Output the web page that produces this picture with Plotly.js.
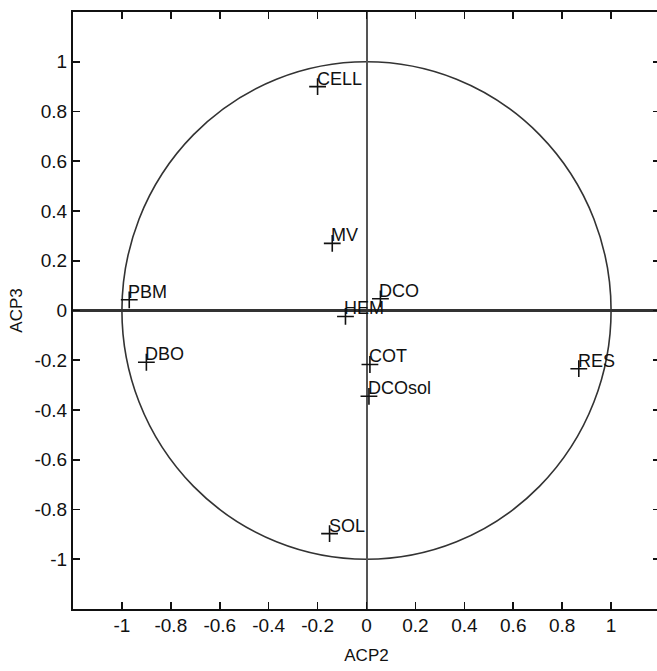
<!DOCTYPE html>
<html>
<head>
<meta charset="utf-8">
<script src="https://cdn.plot.ly/plotly-3.0.1.min.js"></script>
<style>
html,body{margin:0;padding:0;overflow:hidden;background:#fff;}
#chart{width:663px;height:671px;}
</style>
</head>
<body>
<div id="chart"></div>
<script>
const labels = ["CELL","MV","PBM","HEM","DCO","DBO","COT","DCOsol","RES","SOL"];
const acp2 = [-0.20,-0.14,-0.97,-0.086,0.057,-0.90,0.014,0.010,0.868,-0.151];
const acp3 = [0.90,0.27,0.043,-0.024,0.047,-0.208,-0.217,-0.345,-0.234,-0.897];
const tickVals = [-1,-0.8,-0.6,-0.4,-0.2,0,0.2,0.4,0.6,0.8,1];
const tickText = ["-1","-0.8","-0.6","-0.4","-0.2","0","0.2","0.4","0.6","0.8","1"];

const FONT = 'Liberation Sans, Arial, sans-serif';

const trace = {
  x: acp2, y: acp3,
  mode: 'markers', type: 'scatter',
  marker: {symbol: 'cross-thin', size: 12, line: {width: 1.6, color: '#111'}, color: '#111'},
  cliponaxis: false, hoverinfo: 'none'
};

const annotations = labels.map((t, i) => ({
  x: acp2[i], y: acp3[i], xref: 'x', yref: 'y', text: t, showarrow: false,
  xanchor: 'left', yanchor: 'bottom', xshift: -3, yshift: -4,
  font: {family: FONT, size: 18, color: '#111'}
}));

const axisCommon = {
  tickvals: tickVals, ticktext: tickText,
  ticks: 'inside', ticklen: 7, tickwidth: 1.6, tickcolor: '#111',
  showline: true, linewidth: 2, linecolor: '#111', mirror: 'ticks',
  showgrid: false, zeroline: true,
  tickfont: {family: FONT, size: 19, color: '#111'},
  fixedrange: true
};

const layout = {
  width: 663, height: 671,
  margin: {l: 73, r: 3, t: 12, b: 62},
  paper_bgcolor: '#fff', plot_bgcolor: '#fff',
  showlegend: false,
  annotations: annotations,
  xaxis: Object.assign({}, axisCommon, {range: [-1.2, 1.2],
    zerolinecolor: '#555', zerolinewidth: 2, ticklabelstandoff: -2,
    title: {text: 'ACP2', font: {family: FONT, size: 17, color: '#111'}, standoff: 14}}),
  yaxis: Object.assign({}, axisCommon, {range: [-1.2, 1.2],
    zerolinecolor: '#333', zerolinewidth: 2.5,
    title: {text: 'ACP3', font: {family: FONT, size: 17, color: '#111'}, standoff: 8}}),
  shapes: [{type: 'circle', xref: 'x', yref: 'y', x0: -1, x1: 1, y0: -1, y1: 1,
    line: {color: '#333', width: 1.6}, layer: 'below'}]
};

Plotly.newPlot('chart', [trace], layout, {staticPlot: true, displayModeBar: false});
</script>
</body>
</html>
